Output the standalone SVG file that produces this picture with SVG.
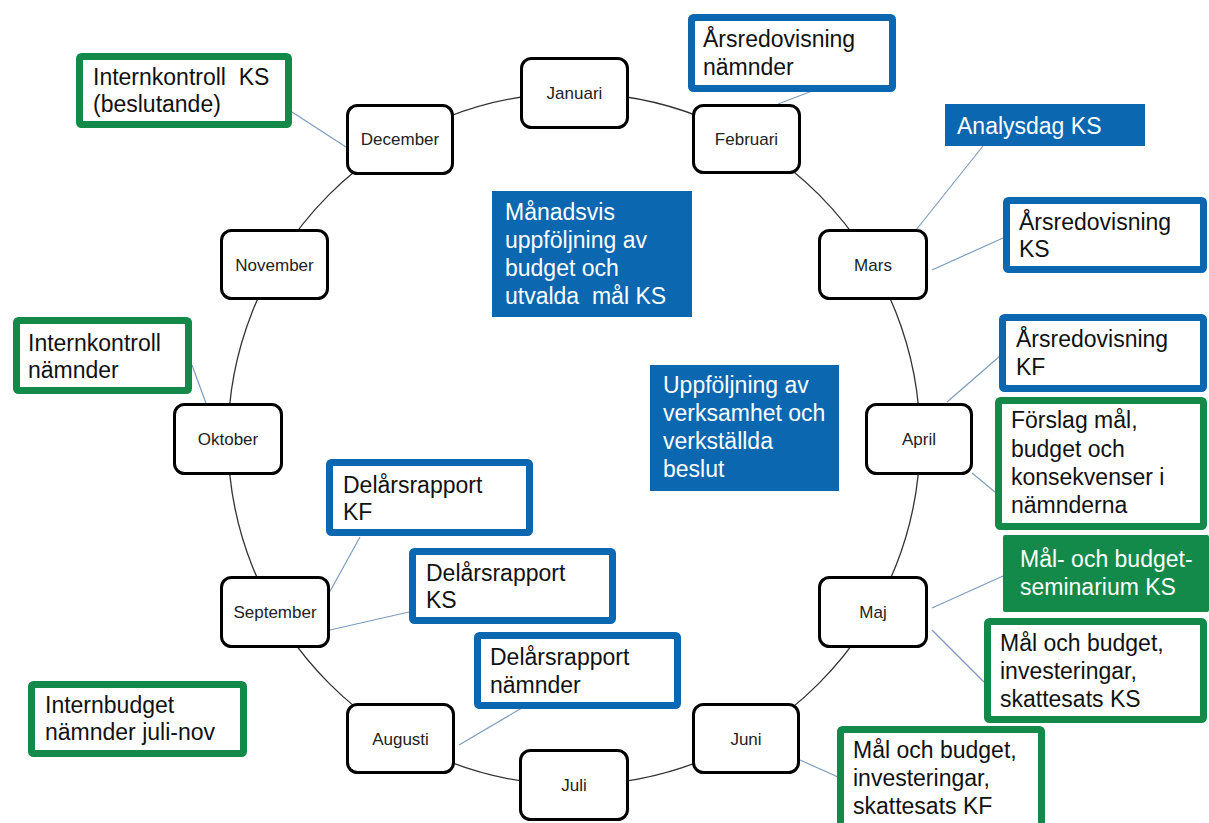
<svg xmlns="http://www.w3.org/2000/svg" width="1209" height="823" viewBox="0 0 1209 823">
<style>
.month rect{fill:#fff;stroke:#000;stroke-width:3}
.month text{font-family:"Liberation Sans",Arial,sans-serif;font-size:17px;fill:#222;text-anchor:middle}
.ob rect{fill:#fff;stroke:#0b67b0;stroke-width:7}
.og rect{fill:#fff;stroke:#138a4a;stroke-width:7}
.sb rect{fill:#0b67b0}
.sg rect{fill:#138a4a}
.ob text,.og text{font-family:"Liberation Sans",Arial,sans-serif;font-size:23px;fill:#111}
.sb text,.sg text{font-family:"Liberation Sans",Arial,sans-serif;font-size:23px;fill:#fff}
.pre{white-space:pre}
#connectors line{stroke:#7d9cbd;stroke-width:1.2}
</style>
<rect width="1209" height="823" fill="#fff"/>
<circle cx="574" cy="439" r="346" fill="none" stroke="#333" stroke-width="1.3"/>
<g id="connectors">
<line x1="292" y1="112" x2="346" y2="147"/>
<line x1="820" y1="88" x2="778" y2="104"/>
<line x1="983" y1="146" x2="912" y2="235"/>
<line x1="1003" y1="238" x2="932" y2="270"/>
<line x1="1000" y1="356" x2="947" y2="402"/>
<line x1="995" y1="492" x2="972" y2="473"/>
<line x1="1003" y1="576" x2="932" y2="608"/>
<line x1="932" y1="630" x2="984" y2="682"/>
<line x1="800" y1="760" x2="838" y2="777"/>
<line x1="527" y1="705" x2="459" y2="745"/>
<line x1="409" y1="612" x2="330" y2="630"/>
<line x1="360" y1="537" x2="328" y2="595"/>
<line x1="192" y1="365" x2="207" y2="406"/>
</g>
<g id="m-jan" class="month"><rect x="521.5" y="58.5" width="106" height="69" rx="10"/><text x="574.5" y="99">Januari</text></g>
<g id="m-feb" class="month"><rect x="693.5" y="105.5" width="106" height="67" rx="10"/><text x="746.5" y="145">Februari</text></g>
<g id="m-mar" class="month"><rect x="819.5" y="230.5" width="107" height="68" rx="10"/><text x="873" y="270.5">Mars</text></g>
<g id="m-apr" class="month"><rect x="866.5" y="404.5" width="105" height="69" rx="10"/><text x="919" y="445">April</text></g>
<g id="m-maj" class="month"><rect x="819.5" y="577.5" width="107" height="69" rx="10"/><text x="873" y="618">Maj</text></g>
<g id="m-jun" class="month"><rect x="693.5" y="704.5" width="105" height="68" rx="10"/><text x="746" y="744.5">Juni</text></g>
<g id="m-jul" class="month"><rect x="520.5" y="750.5" width="107" height="69" rx="10"/><text x="574" y="791">Juli</text></g>
<g id="m-aug" class="month"><rect x="347.5" y="704.5" width="106" height="68" rx="10"/><text x="400.5" y="744.5">Augusti</text></g>
<g id="m-sep" class="month"><rect x="221.5" y="577.5" width="107" height="69" rx="10"/><text x="275" y="618">September</text></g>
<g id="m-okt" class="month"><rect x="174.5" y="404.5" width="107" height="69" rx="10"/><text x="228" y="445">Oktober</text></g>
<g id="m-nov" class="month"><rect x="221.5" y="230.5" width="106" height="68" rx="10"/><text x="274.5" y="270.5">November</text></g>
<g id="m-dec" class="month"><rect x="347.5" y="105.5" width="105" height="68" rx="10"/><text x="400" y="145">December</text></g>

<g id="c-ik-ks" class="og"><rect x="79.5" y="56.5" width="209" height="68" rx="2"/><text class="pre" x="93" y="85">Internkontroll  KS</text><text x="93" y="112">(beslutande)</text></g>
<g id="c-ars-namnder" class="ob"><rect x="691.5" y="17.5" width="201" height="71" rx="2"/><text x="703" y="47">Årsredovisning</text><text x="703" y="75">nämnder</text></g>
<g id="c-analysdag" class="sb"><rect x="945" y="104" width="200" height="42"/><text x="957" y="134">Analysdag KS</text></g>
<g id="c-ars-ks" class="ob"><rect x="1006.5" y="200.5" width="197" height="69" rx="2"/><text x="1019" y="230">Årsredovisning</text><text x="1019" y="257">KS</text></g>
<g id="c-ars-kf" class="ob"><rect x="1002.5" y="317.5" width="201" height="71" rx="2"/><text x="1016" y="347">Årsredovisning</text><text x="1016" y="375">KF</text></g>
<g id="c-forslag" class="og"><rect x="998.5" y="400.5" width="205" height="126" rx="2"/><text x="1011" y="428">Förslag mål,</text><text x="1011" y="457">budget och</text><text x="1011" y="485">konsekvenser i</text><text x="1011" y="513">nämnderna</text></g>
<g id="c-seminarium" class="sg"><rect x="1003" y="535" width="206" height="77" rx="2"/><text x="1020" y="567">Mål- och budget-</text><text x="1020" y="595">seminarium KS</text></g>
<g id="c-mal-ks" class="og"><rect x="987.5" y="621.5" width="216" height="98" rx="2"/><text x="1000" y="651">Mål och budget,</text><text x="1000" y="679">investeringar,</text><text x="1000" y="707">skattesats KS</text></g>
<g id="c-mal-kf" class="og"><rect x="840.5" y="729.5" width="201" height="110" rx="2"/><text x="853" y="758">Mål och budget,</text><text x="853" y="786">investeringar,</text><text x="853" y="814">skattesats KF</text></g>
<g id="c-del-namnder" class="ob"><rect x="477.5" y="635.5" width="200" height="70" rx="2"/><text x="490" y="665">Delårsrapport</text><text x="490" y="693">nämnder</text></g>
<g id="c-del-ks" class="ob"><rect x="412.5" y="551.5" width="200" height="69" rx="2"/><text x="426" y="581">Delårsrapport</text><text x="426" y="608">KS</text></g>
<g id="c-del-kf" class="ob"><rect x="329.5" y="462.5" width="200" height="70" rx="2"/><text x="343" y="493">Delårsrapport</text><text x="343" y="520">KF</text></g>
<g id="c-ik-namnder" class="og"><rect x="16.5" y="320.5" width="172" height="70" rx="2"/><text x="28" y="351">Internkontroll</text><text x="28" y="378">nämnder</text></g>
<g id="c-internbudget" class="og"><rect x="31.5" y="684.5" width="212" height="69" rx="2"/><text x="45" y="713">Internbudget</text><text x="45" y="740">nämnder juli-nov</text></g>
<g id="c-manadsvis" class="sb"><rect x="492" y="191" width="200" height="126"/><text x="505" y="220">Månadsvis</text><text x="505" y="248">uppföljning av</text><text x="505" y="276">budget och</text><text class="pre" x="505" y="304">utvalda  mål KS</text></g>
<g id="c-uppfoljning" class="sb"><rect x="650" y="365" width="189" height="126"/><text x="663" y="393">Uppföljning av</text><text x="663" y="421">verksamhet och</text><text x="663" y="449">verkställda</text><text x="663" y="477">beslut</text></g>
</svg>
